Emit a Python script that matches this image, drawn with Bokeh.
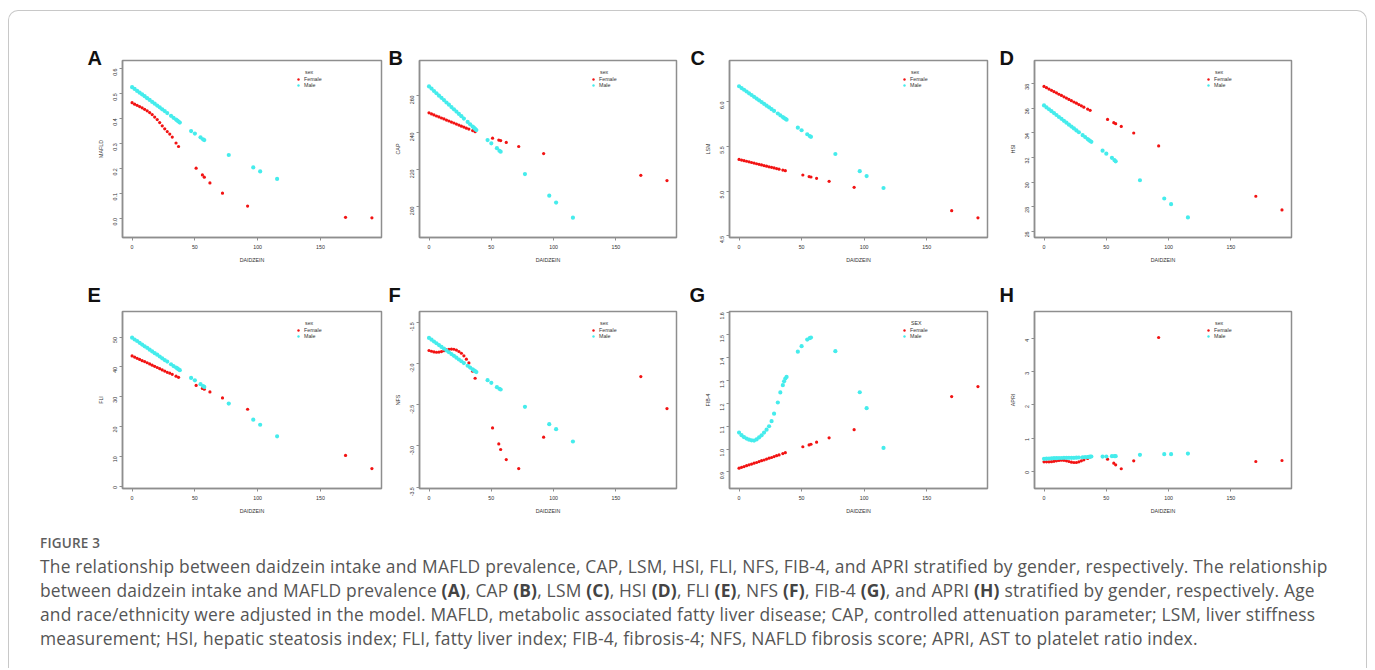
import math
from bokeh.plotting import figure
from bokeh.models import Range1d, FixedTicker, Legend, LegendItem, Label, Div, Title
from bokeh.layouts import row, column
from bokeh.embed import file_html
from bokeh.resources import INLINE

# ---------------- data ----------------
x_female = [0, 2, 4, 6, 8, 10, 12, 14, 16, 18, 20, 22, 24, 26, 28, 30, 32,
            35, 37, 51, 56, 57.5, 62, 72, 92, 170, 191]
x_male = [0, 2, 4, 6, 8, 10, 12, 14, 16, 18, 20, 22, 24, 26, 28,
          31, 33, 35, 36, 37, 38, 47, 50, 54.5, 56.5, 57.5, 77, 96.5, 102, 115.5]

mafld_female = [0.463, 0.457, 0.452, 0.447, 0.442, 0.436, 0.430, 0.423, 0.415, 0.405, 0.395, 0.383,
                0.370, 0.358, 0.347, 0.337, 0.325, 0.301, 0.287, 0.200, 0.173, 0.164, 0.141, 0.100,
                0.048, 0.003, 0.001]
mafld_male = [0.525, 0.518, 0.510, 0.503, 0.496, 0.489, 0.481, 0.474, 0.466, 0.459, 0.451, 0.444,
              0.436, 0.429, 0.421, 0.410, 0.402, 0.395, 0.391, 0.387, 0.383, 0.349, 0.339, 0.324,
              0.316, 0.313, 0.253, 0.203, 0.187, 0.157]

cap_female = [250.6, 250.0, 249.5, 248.9, 248.4, 247.8, 247.3, 246.7, 246.2, 245.6, 245.1, 244.5,
              244.0, 243.4, 242.9, 242.3, 241.8, 241.0, 240.4, 236.9, 235.9, 235.6, 234.6, 232.4,
              228.6, 216.8, 214.0]
cap_male = [264.9, 263.7, 262.4, 261.2, 259.9, 258.7, 257.5, 256.2, 255.0, 253.7, 252.5, 251.3,
            250.0, 248.8, 247.5, 245.7, 244.4, 243.2, 242.6, 241.9, 241.3, 235.9, 234.1, 231.5,
            230.1, 229.6, 217.5, 205.8, 202.1, 193.9]

lsm_female = [5.353, 5.346, 5.339, 5.333, 5.326, 5.319, 5.312, 5.305, 5.299, 5.292, 5.285, 5.278,
              5.271, 5.265, 5.258, 5.251, 5.244, 5.234, 5.227, 5.179, 5.162, 5.157, 5.142, 5.108,
              5.041, 4.78, 4.70]
lsm_male = [6.172, 6.152, 6.133, 6.113, 6.093, 6.074, 6.054, 6.034, 6.014, 5.995, 5.975, 5.955,
            5.936, 5.916, 5.896, 5.867, 5.847, 5.827, 5.817, 5.808, 5.798, 5.709, 5.680, 5.635,
            5.615, 5.606, 5.414, 5.222, 5.167, 5.034]

hsi_female = [37.78, 37.68, 37.57, 37.47, 37.36, 37.26, 37.15, 37.05, 36.94, 36.84, 36.73, 36.63,
              36.52, 36.42, 36.31, 36.21, 36.10, 35.94, 35.84, 35.10, 34.84, 34.76, 34.53, 34.00,
              32.95, 28.86, 27.75]
hsi_male = [36.24, 36.08, 35.93, 35.77, 35.62, 35.46, 35.30, 35.15, 34.99, 34.84, 34.68, 34.52,
            34.37, 34.21, 34.06, 33.82, 33.67, 33.51, 33.43, 33.35, 33.28, 32.56, 32.32, 31.98,
            31.80, 31.70, 30.16, 28.68, 28.22, 27.14]

fli_female = [43.7, 43.3, 42.9, 42.5, 42.1, 41.8, 41.4, 41.0, 40.6, 40.2, 39.8, 39.4, 39.0, 38.6,
              38.2, 37.9, 37.5, 36.9, 36.5, 33.8, 32.8, 32.5, 31.6, 29.6, 25.8, 10.3, 5.9]
fli_male = [49.8, 49.2, 48.7, 48.1, 47.5, 46.9, 46.4, 45.8, 45.2, 44.6, 44.1, 43.5, 42.9, 42.3,
            41.8, 40.9, 40.3, 39.8, 39.5, 39.2, 38.9, 36.3, 35.5, 34.2, 33.6, 33.3, 27.7, 22.3,
            20.6, 16.7]

nfs_female = [-1.843, -1.852, -1.860, -1.864, -1.862, -1.856, -1.846, -1.836, -1.829, -1.826,
              -1.828, -1.838, -1.855, -1.876, -1.908, -1.948, -1.993, -2.094, -2.179, -2.781,
              -2.975, -3.043, -3.165, -3.274, -2.894, -2.159, -2.547]
nfs_male = [-1.690, -1.712, -1.734, -1.755, -1.777, -1.799, -1.821, -1.843, -1.864, -1.886,
            -1.908, -1.930, -1.952, -1.973, -1.995, -2.028, -2.050, -2.072, -2.082, -2.093,
            -2.104, -2.203, -2.235, -2.288, -2.308, -2.316, -2.526, -2.736, -2.797, -2.946]

fib4_female = [0.916, 0.920, 0.923, 0.927, 0.931, 0.934, 0.938, 0.941, 0.945, 0.949, 0.952, 0.956,
               0.960, 0.963, 0.967, 0.971, 0.974, 0.980, 0.984, 1.010, 1.018, 1.021, 1.030, 1.049,
               1.085, 1.230, 1.274]
fib4_male = [1.072, 1.061, 1.052, 1.046, 1.041, 1.038, 1.037, 1.042, 1.051, 1.060, 1.072, 1.085,
             1.100, 1.122, 1.155, 1.204, 1.248, 1.280, 1.297, 1.309, 1.316, 1.427, 1.451, 1.480,
             1.486, 1.489, 1.429, 1.249, 1.179, 1.005]

apri_female = [0.28, 0.28, 0.28, 0.285, 0.295, 0.31, 0.32, 0.33, 0.325, 0.31, 0.29, 0.27, 0.26,
               0.26, 0.28, 0.31, 0.34, 0.38, 0.43, 0.36, 0.24, 0.19, 0.07, 0.31, 4.04, 0.29, 0.32]
apri_male = [0.37, 0.375, 0.38, 0.385, 0.39, 0.39, 0.395, 0.395, 0.40, 0.40, 0.40, 0.40, 0.40,
             0.405, 0.41, 0.415, 0.42, 0.425, 0.43, 0.435, 0.44, 0.44, 0.44, 0.45, 0.45, 0.45,
             0.49, 0.51, 0.51, 0.53]

x_ticks = [0, 50, 100, 150]
x_tick_labels = ["0", "50", "100", "150"]

mafld_ticks = [0.0, 0.1, 0.2, 0.3, 0.4, 0.5, 0.6]
mafld_labels = ["0.0", "0.1", "0.2", "0.3", "0.4", "0.5", "0.6"]
cap_ticks = [200, 220, 240, 260]
cap_labels = ["200", "220", "240", "260"]
lsm_ticks = [4.5, 5.0, 5.5, 6.0]
lsm_labels = ["4.5", "5.0", "5.5", "6.0"]
hsi_ticks = [26, 28, 30, 32, 34, 36, 38]
hsi_labels = ["26", "28", "30", "32", "34", "36", "38"]
fli_ticks = [0, 10, 20, 30, 40, 50]
fli_labels = ["0", "10", "20", "30", "40", "50"]
nfs_ticks = [-3.5, -3.0, -2.5, -2.0, -1.5]
nfs_labels = ["-3.5", "-3.0", "-2.5", "-2.0", "-1.5"]
fib4_ticks = [0.9, 1.0, 1.1, 1.2, 1.3, 1.4, 1.5, 1.6]
fib4_labels = ["0.9", "1.0", "1.1", "1.2", "1.3", "1.4", "1.5", "1.6"]
apri_ticks = [0, 1, 2, 3, 4]
apri_labels = ["0", "1", "2", "3", "4"]

panel_letters = ["A", "B", "C", "D", "E", "F", "G", "H"]
y_titles = ["MAFLD", "CAP", "LSM", "HSI", "FLI", "NFS", "FIB-4", "APRI"]
legend_titles = ["sex", "sex", "sex", "sex", "sex", "sex", "SEX", "sex"]
series_labels = ["Female", "Male"]
x_title = "DAIDZEIN"

caption_head = "FIGURE 3"
caption_lines = [
    "The relationship between daidzein intake and MAFLD prevalence, CAP, LSM, HSI, FLI, NFS, FIB-4, and APRI stratified by gender, respectively. The relationship",
    "between daidzein intake and MAFLD prevalence <b>(A)</b>, CAP <b>(B)</b>, LSM <b>(C)</b>, HSI <b>(D)</b>, FLI <b>(E)</b>, NFS <b>(F)</b>, FIB-4 <b>(G)</b>, and APRI <b>(H)</b> stratified by gender, respectively. Age",
    "and race/ethnicity were adjusted in the model. MAFLD, metabolic associated fatty liver disease; CAP, controlled attenuation parameter; LSM, liver stiffness",
    "measurement; HSI, hepatic steatosis index; FLI, fatty liver index; FIB-4, fibrosis-4; NFS, NAFLD fibrosis score; APRI, AST to platelet ratio index.",
]

# ---------------- styling / layout ----------------
FONT = "Liberation Sans"
AXC = "#8e8e8e"
TXT = "#333333"
RED = "#f21313"
CYAN = "#45ecec"
SMALL = "5.3px"

x_lim = (-7.64, 198.64)
# (min_border_left, frame width, min_border_right) per column; page has no body margin
col_geom = [(122, 259, 4), (34, 257, 14), (39, 258, 8), (39, 257, 76)]
# (min_border_top, frame height, min_border_bottom) per row
row_geom = [(60, 177, 32), (42, 177, 37)]
letter_dx = [[-35, -31, -39, -35], [-35, -31, -40, -35]]
letter_standoff = [-16, 12]

y_lims = [(-0.078, 0.632), (183.2, 278.9), (4.48, 6.46), (25.51, 39.89),
          (-0.8, 58.6), (-3.516, -1.37), (0.827, 1.603), (-0.527, 4.826)]
y_tick_sets = [(mafld_ticks, mafld_labels), (cap_ticks, cap_labels), (lsm_ticks, lsm_labels),
               (hsi_ticks, hsi_labels), (fli_ticks, fli_labels), (nfs_ticks, nfs_labels),
               (fib4_ticks, fib4_labels), (apri_ticks, apri_labels)]
female_sets = [mafld_female, cap_female, lsm_female, hsi_female, fli_female, nfs_female,
               fib4_female, apri_female]
male_sets = [mafld_male, cap_male, lsm_male, hsi_male, fli_male, nfs_male, fib4_male, apri_male]


def make_panel(i):
    r, c = divmod(i, 4)
    ml, fw, mr = col_geom[c]
    mt, fh, mb = row_geom[r]
    title = Title(text=panel_letters[i], align="left", vertical_align="bottom",
                  offset=letter_dx[r][c], standoff=letter_standoff[r],
                  text_font=FONT, text_font_size="20px", text_font_style="bold",
                  text_color="#111111")
    p = figure(width=ml + fw + mr, height=mt + fh + mb, output_backend="svg",
               toolbar_location=None, x_range=Range1d(*x_lim), y_range=Range1d(*y_lims[i]),
               min_border_left=ml, min_border_right=mr, min_border_top=mt,
               min_border_bottom=mb, title=title)
    p.background_fill_color = "white"
    p.border_fill_color = "white"
    p.outline_line_color = AXC
    p.outline_line_width = 1.5
    p.xgrid.visible = False
    p.ygrid.visible = False

    yt, yl = y_tick_sets[i]
    p.xaxis.ticker = FixedTicker(ticks=x_ticks)
    p.xaxis.major_label_overrides = dict(zip(x_ticks, x_tick_labels))
    p.yaxis.ticker = FixedTicker(ticks=yt)
    p.yaxis.major_label_overrides = dict(zip(yt, yl))
    p.xaxis.axis_label = x_title
    p.yaxis.axis_label = y_titles[i]
    for ax in (p.xaxis, p.yaxis):
        ax.axis_line_color = AXC
        ax.axis_line_width = 1.5
        ax.major_tick_line_color = AXC
        ax.major_tick_line_width = 1
        ax.major_tick_out = 3
        ax.major_tick_in = 0
        ax.minor_tick_line_color = None
        ax.major_label_text_font = FONT
        ax.major_label_text_font_size = SMALL
        ax.major_label_text_color = TXT
        ax.axis_label_text_font = FONT
        ax.axis_label_text_font_size = SMALL
        ax.axis_label_text_font_style = "normal"
        ax.axis_label_text_color = TXT
        ax.major_label_standoff = 4
        ax.axis_label_standoff = 5
    p.yaxis.major_label_orientation = math.pi / 2

    rf = p.scatter(x_female, female_sets[i], size=3.2, marker="circle",
                   fill_color=RED, line_color=None)
    rm = p.scatter(x_male, male_sets[i], size=4.2, marker="circle",
                   fill_color=CYAN, line_color=None)

    leg = Legend(items=[LegendItem(label=series_labels[0], renderers=[rf]),
                        LegendItem(label=series_labels[1], renderers=[rm])],
                 location=(fw - 86, fh - 27.5))
    leg.glyph_width = 6
    leg.glyph_height = 6
    leg.label_height = 6
    leg.label_standoff = 3
    leg.spacing = 0
    leg.padding = 0
    leg.margin = 0
    leg.border_line_color = None
    leg.background_fill_alpha = 0
    leg.label_text_font = FONT
    leg.label_text_font_size = SMALL
    leg.label_text_color = TXT
    p.add_layout(leg)

    p.add_layout(Label(x=fw - 83 + 6.5, y=fh - 11.5, x_units="screen", y_units="screen",
                       text=legend_titles[i], text_font=FONT, text_font_size=SMALL,
                       text_color=TXT, text_baseline="middle", text_align="left"))
    return p


figs = [make_panel(i) for i in range(8)]

bold_css = "font-weight:700;color:#444;"
body = "<br>".join(caption_lines).replace("<b>", f'<b style="{bold_css}">')
caption_html = (
    '<div style="padding:4px 0 0 35px;font-family:\'Open Sans\',sans-serif;color:#555;">'
    f'<div style="font-size:13.5px;font-weight:600;line-height:18px;letter-spacing:0.2px;color:#5e5e5e;">{caption_head}</div>'
    f'<div style="margin-top:2px;font-size:17.4px;line-height:24px;letter-spacing:0.2px;white-space:nowrap;">{body}</div>'
    '</div>'
)
caption = Div(text=caption_html, width=1359, height=125)

frame_css = (
    ":host { position: relative; }"
    ":host::after { content: ''; position: absolute; left: 8px; top: 10px; width: 1359px;"
    " height: 658px; box-sizing: border-box; border: 1.5px solid #c8c8c8; border-bottom: none;"
    " border-radius: 10px 10px 0 0; pointer-events: none; }"
)

layout = column(row(*figs[:4]), row(*figs[4:]), caption, stylesheets=[frame_css])

open("out.html", "w").write(file_html(layout, INLINE))
